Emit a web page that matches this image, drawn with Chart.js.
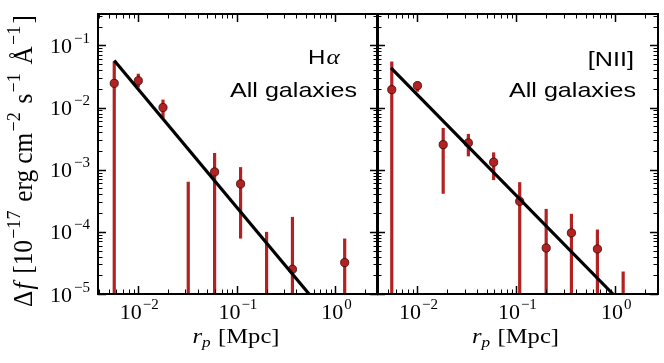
<!DOCTYPE html>
<html>
<head>
<meta charset="utf-8">
<script src="https://cdn.jsdelivr.net/npm/chart.js@4"></script>
<style>
  body { margin: 0; background: #fff; }
  #wrap { position: relative; width: 664px; height: 363px; }
  canvas { position: absolute; left: 0; top: 0; }
</style>
</head>
<body>
<div id="wrap">
  <canvas id="ha" width="664" height="363"></canvas>
  <canvas id="nii" width="664" height="363"></canvas>
</div>
<script>
// ---- data ----
// H-alpha panel
const haR   = [0.0057, 0.0100, 0.0178, 0.0321, 0.0594, 0.109, 0.200, 0.366, 1.24];
const haF   = [2.45e-2, 2.7e-2, 1.0e-2, null, 9.2e-4, 5.9e-4, null, 2.5e-5, 3.2e-5];
const haHi  = [5.5e-2, 3.5e-2, 1.34e-2, 6.4e-4, 1.86e-3, 1.1e-3, 1.0e-4, 1.74e-4, 7.8e-5];
const haLo  = [0, 2.1e-2, 6.8e-3, 0, 0, 7.8e-5, 0, 0, 0];   // 0 = bar runs off the bottom
const haFitR = [0.0057, 0.54];
const haFitF = [0.057, 1e-5];

// [NII] panel
const niiR  = [0.0055, 0.0100, 0.0182, 0.0327, 0.0589, 0.108, 0.200, 0.360, 0.659, 1.20];
const niiF  = [1.94e-2, 2.25e-2, 2.53e-3, 2.7e-3, 1.32e-3, 3.1e-4, 5.5e-5, 9.6e-5, 5.3e-5, null];
const niiHi = [5.5e-2, 2.63e-2, 4.7e-3, 3.77e-3, 1.9e-3, 6.3e-4, 2.34e-4, 1.95e-4, 1.09e-4, 2.3e-5];
const niiLo = [0, 1.8e-2, 4.1e-4, 1.64e-3, 6.8e-4, 0, 0, 0, 0, 0];
const niiFitR = [0.0054, 0.946];
const niiFitF = [0.0434, 1e-5];

// axes
const xMin = 0.0039, xMax = 2.7;
const yMin = 1e-5, yMax = 0.32;
const xTickVals = [0.01, 0.1, 1];
const xTickExp  = ['\u22122', '\u22121', '0'];
const yTickVals = [1e-1, 1e-2, 1e-3, 1e-4, 1e-5];
const yTickExp  = ['\u22121', '\u22122', '\u22123', '\u22124', '\u22125'];

const SERIF = '"Liberation Serif", "DejaVu Serif", serif';
const SANS = '"Liberation Sans", Arial, sans-serif';
const RED = '#b22222';

const panels = {
  ha:  { r: haR, f: haF, hi: haHi, lo: haLo, fitR: haFitR, fitF: haFitF, yLabels: true,
         line1: [{ t: 'H', fam: SANS, size: 20 }, { t: '\u03b1', it: true, size: 21, gap: 1 }],
         line1X: 308, line1Align: 'left', line1Y: 64, line2X: 357 },
  nii: { r: niiR, f: niiF, hi: niiHi, lo: niiLo, fitR: niiFitR, fitF: niiFitF, yLabels: false,
         line1: [{ t: '[NII]', fam: SANS, size: 21 }],
         line1X: 634, line1Align: 'right', line1Y: 66, line2X: 636 }
};

//~==== text helpers ====~//
function runFont(r) {
  return (r.it ? 'italic ' : '') + r.size + 'px ' + (r.fam || SERIF);
}
function runsWidth(ctx, runs) {
  let w = 0;
  for (const r of runs) {
    ctx.font = runFont(r);
    w += ctx.measureText(r.t).width + (r.gap || 0);
  }
  return w;
}
function drawRuns(ctx, runs, x, y, align, sx, sy) {
  const w = runsWidth(ctx, runs);
  ctx.save();
  ctx.translate(x, y);
  ctx.scale(sx || 1, sy || 1);
  let cx = align === 'center' ? -w / 2 : align === 'right' ? -w : 0;
  ctx.textAlign = 'left';
  ctx.textBaseline = 'alphabetic';
  for (const r of runs) {
    ctx.font = runFont(r);
    cx += r.gap || 0;
    ctx.fillText(r.t, cx, r.dy || 0);
    cx += ctx.measureText(r.t).width;
  }
  ctx.restore();
}

function logTicks(min, max) {
  const out = [];
  for (let d = Math.floor(Math.log10(min)); d <= Math.ceil(Math.log10(max)); d++) {
    for (let m = 1; m <= 9; m++) {
      const v = m * Math.pow(10, d);
      if (v >= min * 0.999 && v <= max * 1.001) out.push({ v: v, major: m === 1 });
    }
  }
  return out;
}

//!==== panel plugin: error bars, frame, ticks, labels ====!//
const panelPlugin = {
  id: 'panel',
  beforeDatasetsDraw(chart) {
    const p = panels[chart.canvas.id];
    const { ctx, chartArea: a, scales: { x, y } } = chart;
    ctx.save();
    ctx.beginPath();
    ctx.rect(a.left, a.top, a.right - a.left, a.bottom - a.top);
    ctx.clip();
    ctx.strokeStyle = RED;
    ctx.lineWidth = 3.2;
    for (let i = 0; i < p.r.length; i++) {
      const px = x.getPixelForValue(p.r[i]);
      const top = y.getPixelForValue(p.hi[i]);
      const bot = p.lo[i] > 0 ? y.getPixelForValue(p.lo[i]) : a.bottom + 3;
      ctx.beginPath();
      ctx.moveTo(px, top);
      ctx.lineTo(px, bot);
      ctx.stroke();
    }
    ctx.restore();
  },
  afterDraw(chart) {
    const p = panels[chart.canvas.id];
    const { ctx, chartArea: a, scales: { x, y } } = chart;
    ctx.save();
    ctx.strokeStyle = '#000';
    ctx.fillStyle = '#000';
    // ticks on all four sides, pointing in
    for (const t of logTicks(xMin, xMax)) {
      const px = Math.round(x.getPixelForValue(t.v)) + 0.5;
      const len = t.major ? 8 : 4.5;
      ctx.lineWidth = t.major ? 1.5 : 1;
      ctx.beginPath();
      ctx.moveTo(px, a.bottom); ctx.lineTo(px, a.bottom - len);
      ctx.moveTo(px, a.top); ctx.lineTo(px, a.top + len);
      ctx.stroke();
    }
    for (const t of logTicks(yMin, yMax)) {
      const py = Math.round(y.getPixelForValue(t.v)) + 0.5;
      const len = t.major ? 8 : 4.5;
      ctx.lineWidth = t.major ? 1.5 : 1;
      ctx.beginPath();
      ctx.moveTo(a.left, py); ctx.lineTo(a.left + len, py);
      ctx.moveTo(a.right, py); ctx.lineTo(a.right - len, py);
      ctx.stroke();
    }
    ctx.lineWidth = 2;
    ctx.strokeRect(a.left, a.top, a.right - a.left, a.bottom - a.top);

    // tick labels
    xTickVals.forEach((v, i) => {
      drawRuns(ctx, [{ t: '10', size: 22 }, { t: xTickExp[i], size: 15, dy: -10, gap: 1 }],
        x.getPixelForValue(v) + 1, a.bottom + 25, 'center');
    });
    if (p.yLabels) {
      yTickVals.forEach((v, i) => {
        drawRuns(ctx, [{ t: '10', size: 22 }, { t: yTickExp[i], size: 15, dy: -10, gap: 2 }],
          a.left - 8, y.getPixelForValue(v) + 7.5, 'right');
      });
      // y axis label, rotated
      const yl = [
        { t: '\u0394', size: 21 }, { t: 'f', it: true, size: 21, gap: 1 },
        { t: ' [10', size: 21, gap: 2 }, { t: '\u221217', size: 15, dy: -9, gap: 1 },
        { t: ' erg cm', size: 21, gap: 2 }, { t: '\u22122', size: 15, dy: -9, gap: 1 },
        { t: ' s', size: 21, gap: 2 }, { t: '\u22121', size: 15, dy: -9, gap: 1 },
        { t: ' \u00c5', size: 21, gap: 2 }, { t: '\u22121', size: 15, dy: -9, gap: 1 },
        { t: ']', size: 21, gap: 2 }
      ];
      ctx.save();
      ctx.translate(32, 161);
      ctx.rotate(-Math.PI / 2);
      drawRuns(ctx, yl, 0, 0, 'center', 292 / runsWidth(ctx, yl), 1.3);
      ctx.restore();
    }
    // x axis label
    const xl = [{ t: 'r', it: true, size: 20 }, { t: 'p', it: true, size: 14, dy: 4 }, { t: ' [Mpc]', size: 20, gap: 1 }];
    drawRuns(ctx, xl, (a.left + a.right) / 2 - 2, 343, 'center', 87 / runsWidth(ctx, xl), 1);

    // panel annotation
    drawRuns(ctx, p.line1, p.line1X, p.line1Y, p.line1Align, 1.2, 1);
    const l2 = [{ t: 'All galaxies', fam: SANS, size: 21 }];
    drawRuns(ctx, l2, p.line2X, 97, 'right', 127 / runsWidth(ctx, l2), 1);
    ctx.restore();
  }
};

//~==== build the two charts ====~//
function makeChart(id, pad) {
  const p = panels[id];
  const pts = [];
  for (let i = 0; i < p.r.length; i++) {
    if (p.f[i] !== null) pts.push({ x: p.r[i], y: p.f[i] });
  }
  const fit = p.fitR.map((r, i) => ({ x: r, y: p.fitF[i] }));
  return new Chart(document.getElementById(id), {
    type: 'scatter',
    data: {
      datasets: [
        {
          type: 'line',
          data: fit,
          borderColor: '#000',
          borderWidth: 3.2,
          pointRadius: 0,
          order: 0
        },
        {
          data: pts,
          pointRadius: 4.1,
          pointBackgroundColor: RED,
          pointBorderColor: '#3a0606',
          pointBorderWidth: 0.8,
          order: 1
        }
      ]
    },
    options: {
      responsive: false,
      animation: false,
      events: [],
      layout: { padding: pad },
      plugins: { legend: { display: false }, tooltip: { enabled: false } },
      scales: {
        x: { type: 'logarithmic', min: xMin, max: xMax, display: false },
        y: { type: 'logarithmic', min: yMin, max: yMax, display: false }
      }
    },
    plugins: [panelPlugin]
  });
}

makeChart('ha',  { left: 98, right: 286, top: 14, bottom: 69 });
makeChart('nii', { left: 377, right: 6, top: 14, bottom: 69 });
</script>
</body>
</html>
